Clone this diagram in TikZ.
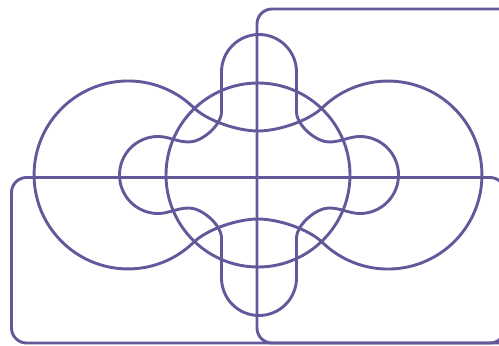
\documentclass[tikz,border=0pt]{standalone}
\usepackage{xcolor}
\usepackage{tikz}
\definecolor{setLine}{HTML}{65579A}

\begin{document}
\begin{tikzpicture}[x=1pt, y=1pt, vset/.style={draw=setLine, line width=2.9pt, line join=round}]
\useasboundingbox (0,0) rectangle (499,346);
\clip (0,0) rectangle (499,346);
\coordinate (ctr) at (258,171);
\draw[vset, rounded corners=15pt] (257,3) rectangle (540,337);
\draw[vset, rounded corners=15pt] (11.5,3) rectangle (505,168.5);
\draw[vset] (ctr) ++(0,0) circle[radius=92];
\begin{scope}[shift={(258,171)}]
\draw[vset] (0,44) .. controls (-20,44) and (-51,54) .. (-65,68) arc[start angle=46.3, end angle=313.7, radius=94] .. controls (-51,-54) and (-20,-44) .. (0,-44) .. controls (20,-44) and (51,-54) .. (65,-68) arc[start angle=-133.7, end angle=133.7, radius=94] .. controls (51,54) and (20,44) .. (0,44) -- cycle;
\end{scope}
\begin{scope}[shift={(259,171)}]
\draw[vset] (-37.5,62) -- (-37.5,103) arc[start angle=180, end angle=0, radius=37.5] -- (37.5,62) .. controls (39,48) and (58,33) .. (70,33) .. controls (82,33) and (90,38.5) .. (101,38.5) arc[start angle=90, end angle=-90, radius=38.5] .. controls (90,-38.5) and (82,-33) .. (70,-33) .. controls (58,-33) and (39,-48) .. (37.5,-62) -- (37.5,-103) arc[start angle=0, end angle=-180, radius=37.5] -- (-37.5,-62) .. controls (-39,-48) and (-58,-33) .. (-70,-33) .. controls (-82,-33) and (-90,-38.5) .. (-101,-38.5) arc[start angle=270, end angle=90, radius=38.5] .. controls (-90,38.5) and (-82,33) .. (-70,33) .. controls (-58,33) and (-39,48) .. (-37.5,62) -- cycle;
\end{scope}
\end{tikzpicture}
\end{document}
